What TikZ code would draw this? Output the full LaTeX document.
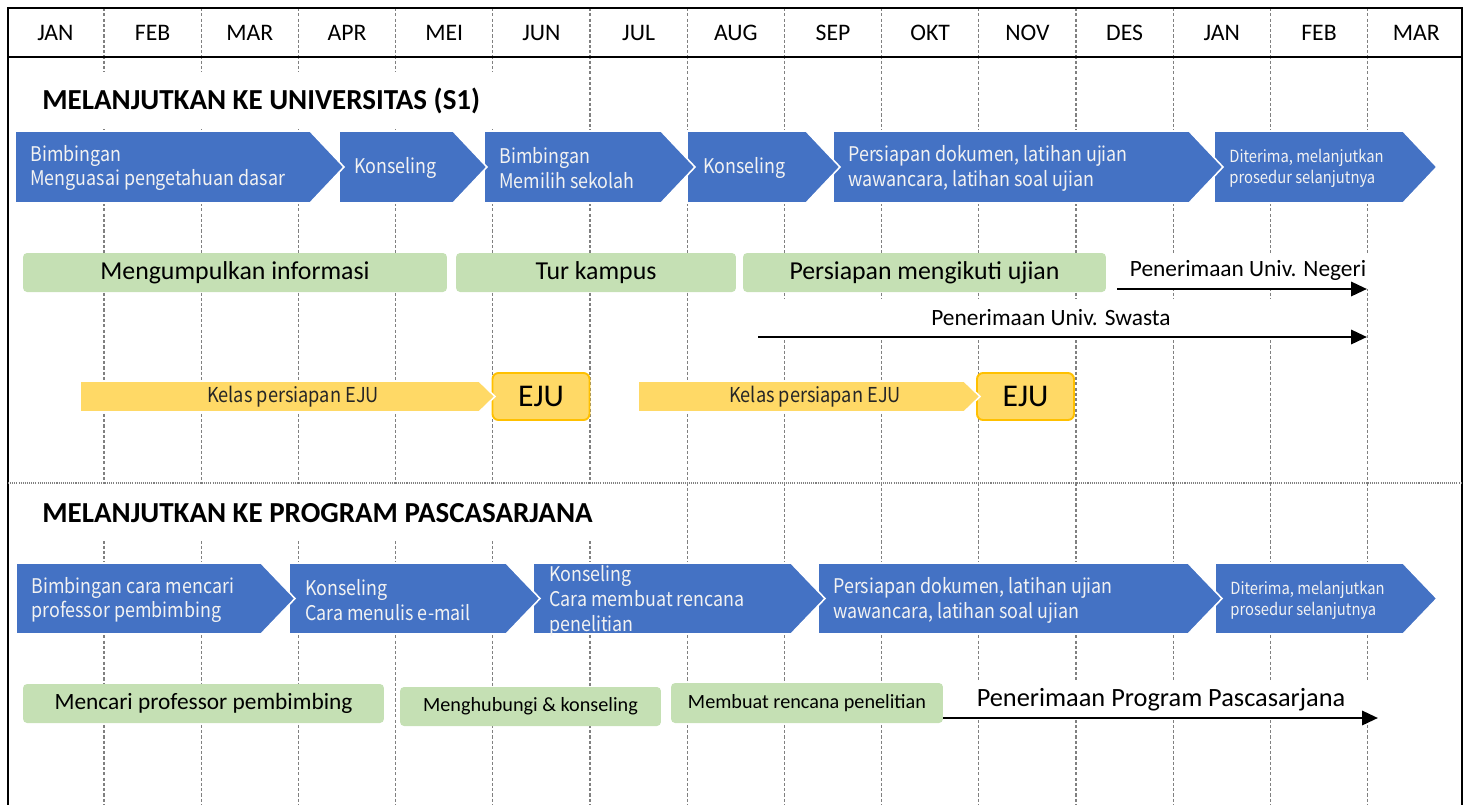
\documentclass[tikz,border=0pt]{standalone}
\usepackage{fontspec}
\setmainfont{Carlito}
\newfontfamily\jpfont[FakeStretch=0.885]{Noto Sans CJK JP}
\usepackage{tikz}
\usetikzlibrary{calc}
\usetikzlibrary{positioning}
\usetikzlibrary{arrows.meta}

\definecolor{stageblue}{RGB}{68,114,196}
\definecolor{infogreen}{RGB}{197,224,180}
\definecolor{classyellow}{RGB}{255,217,102}
\definecolor{ejugold}{RGB}{255,192,0}
\definecolor{gridgray}{RGB}{128,128,128}
\definecolor{offwhite}{RGB}{242,242,242}

% pentagon: style, left, tip, top, bottom, tip depth
\newcommand{\stageshape}[6]{%
  \filldraw[#1] (#2,#4) -- (#3-#6,#4) -- (#3,{(#4+#5)/2}) -- (#3-#6,#5) -- (#2,#5) -- cycle;}

\tikzset{
  grid line/.style={draw=gridgray,line width=0.6pt,dash pattern=on 1.8pt off 1.2pt},
  month label/.style={anchor=base,inner sep=0pt,font=\fontsize{13.5}{16}\selectfont},
  section title/.style={anchor=base west,fill=white,inner xsep=0.3cm,inner ysep=0pt,minimum height=1.15cm,font=\fontsize{16.5}{20}\selectfont\bfseries},
  stage arrow/.style={fill=stageblue,draw=white,line width=0.9pt},
  stage text/.style={anchor=west,inner sep=0pt,text=offwhite,align=left,font=\jpfont\fontsize{11.5}{14.2}\selectfont},
  small stage text/.style={stage text,font=\jpfont\fontsize{9.5}{12}\selectfont},
  info box/.style={fill=infogreen,rounded corners=2.3pt,inner sep=0pt,font=\fontsize{14.7}{17}\selectfont},
  intake label/.style={fill=white,inner sep=0pt,font=\fontsize{13.3}{16}\selectfont},
  intake arrow/.style={line width=1.6pt,-{Triangle[length=9pt,width=8pt]}},
  class bar/.style={fill=classyellow,draw=white,line width=0.9pt},
  class text/.style={inner sep=0pt,text=black!85,font=\jpfont\fontsize{11.7}{13}\selectfont},
  exam box/.style={fill=classyellow,draw=ejugold,line width=1.1pt,rounded corners=3.4pt,minimum width=1.94cm,minimum height=0.94cm,inner sep=0pt,font=\fontsize{18}{20}\selectfont},
}

\begin{document}
\begin{tikzpicture}[x=0.02cm,y=-0.02cm]
\useasboundingbox (0,0) rectangle (1468,805);

% month grid
\foreach \k in {1,...,14}
  \draw[grid line] ({104+97.2*(\k-1)},8) -- ++(0,797);
\foreach \m [count=\i] in {JAN,FEB,MAR,APR,MEI,JUN,JUL,AUG,SEP,OKT,NOV,DES,JAN,FEB,MAR}
  \node[month label] (month\i) at ({55.4+97.2*(\i-1)},40.5) {\m};

\draw[line width=1pt] (8,805) -- (8,8) -- (1462,8) -- (1462,805);
\draw[line width=1pt] (8,57) -- (1462,57);
\draw[gridgray,line width=0.8pt,dash pattern=on 0.6pt off 0.6pt] (8,483) -- (1462,483);

% ---- S1 ----
\node[section title] (title s1) at (27,109) {MELANJUTKAN KE UNIVERSITAS (S1)};

\stageshape{stage arrow}{1214}{1437}{131}{203}{34}
\stageshape{stage arrow}{833}{1223}{131}{203}{34}
\stageshape{stage arrow}{687}{840}{131}{203}{34}
\stageshape{stage arrow}{484}{695}{131}{203}{34}
\stageshape{stage arrow}{339}{487}{131}{203}{34}
\stageshape{stage arrow}{15}{344}{131}{203}{34}
\node[stage text] (guide basic) at (30,168) {Bimbingan\\Menguasai pengetahuan dasar};
\node[stage text] (counsel a) at (354,168) {Konseling};
\node[stage text] (guide school) at (499,168) {Bimbingan\\Memilih sekolah};
\node[stage text] (counsel b) at (703,168) {Konseling};
\node[stage text] (docs s1) at (848,168) {Persiapan dokumen, latihan ujian\\wawancara, latihan soal ujian};
\node[small stage text] (accepted s1) at (1229,168) {Diterima, melanjutkan\\prosedur selanjutnya};

\node[info box,minimum width=8.48cm,minimum height=0.78cm] (info) at (235,272.5) {Mengumpulkan informasi};
\node[info box,minimum width=5.6cm,minimum height=0.78cm] (tour) at (596,272.5) {Tur kampus};
\node[info box,minimum width=7.26cm,minimum height=0.78cm] (exam prep) at (924.5,272.5) {Persiapan mengikuti ujian};

\node[intake label,minimum width=4.9cm,minimum height=0.72cm] (negeri) at (1248,270.5) {Penerimaan Univ. Negeri};
\coordinate (negeri from) at (1117,289);
\coordinate (negeri to) at (1367,289);
\draw[intake arrow] (negeri from) -- (negeri to);

\node[intake label,minimum width=11.6cm,minimum height=0.76cm] (swasta) at (1051,318) {Penerimaan Univ. Swasta};
\coordinate (swasta from) at (758,337);
\coordinate (swasta to) at (1367,337);
\draw[intake arrow] (swasta from) -- (swasta to);

\node[exam box] (eju a) at (541,396.5) {EJU};
\node[exam box] (eju b) at (1025.5,396.5) {EJU};
\stageshape{class bar}{80}{495}{381}{412}{16}
\stageshape{class bar}{638}{980}{381}{412}{16}
\node[class text] (class a) at (293,396.5) {Kelas persiapan EJU};
\node[class text] (class b) at (815,396.5) {Kelas persiapan EJU};

% ---- Pascasarjana ----
\node[section title] (title s2) at (27,522) {MELANJUTKAN KE PROGRAM PASCASARJANA};

\stageshape{stage arrow}{1215}{1437}{563}{634}{34}
\stageshape{stage arrow}{818}{1222}{563}{634}{34}
\stageshape{stage arrow}{533}{825}{563}{634}{34}
\stageshape{stage arrow}{289}{540}{563}{634}{34}
\stageshape{stage arrow}{16}{295}{563}{634}{34}
\node[stage text] (guide prof) at (31,600) {Bimbingan cara mencari\\professor pembimbing};
\node[stage text] (counsel mail) at (305,600) {Konseling\\Cara menulis e-mail};
\node[stage text] (counsel plan) at (549,601) {Konseling\\Cara membuat rencana\\penelitian};
\node[stage text] (docs s2) at (833,600) {Persiapan dokumen, latihan ujian\\wawancara, latihan soal ujian};
\node[small stage text] (accepted s2) at (1230,600) {Diterima, melanjutkan\\prosedur selanjutnya};

\node[info box,minimum width=7.22cm,minimum height=0.78cm,font=\fontsize{13.3}{16}\selectfont] (find prof) at (203.5,703.5) {Mencari professor pembimbing};
\node[info box,minimum width=5.22cm,minimum height=0.78cm,font=\fontsize{11.5}{14}\selectfont] (contact) at (530.5,706.5) {Menghubungi \& konseling};
\node[info box,minimum width=5.44cm,minimum height=0.8cm,font=\fontsize{11.5}{14}\selectfont] (plan) at (807,703) {Membuat rencana penelitian};

\node[intake label,minimum width=8.6cm,minimum height=0.8cm,font=\fontsize{15}{18}\selectfont] (pps) at (1161,700) {Penerimaan Program Pascasarjana};
\coordinate (pps to) at (1378,718);
\draw[intake arrow] (plan.east |- pps to) -- (pps to);
\end{tikzpicture}
\end{document}
